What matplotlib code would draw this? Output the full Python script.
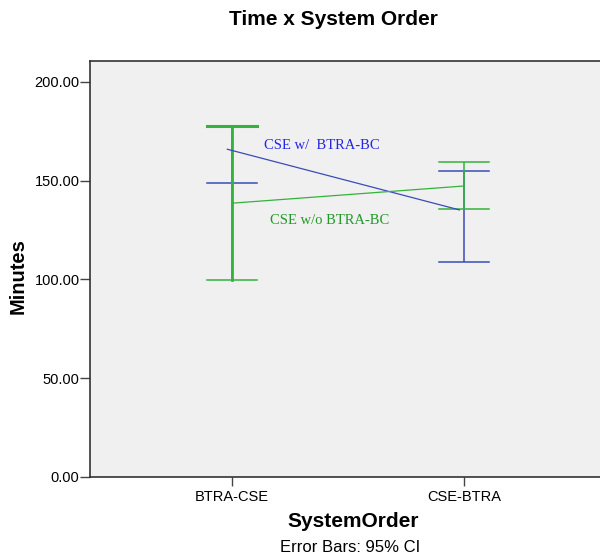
import matplotlib
matplotlib.use("Agg")
import matplotlib.pyplot as plt
import numpy as np

plt.rcParams['font.family'] = ['Liberation Sans', 'DejaVu Sans']

# data
orders = ['BTRA-CSE', 'CSE-BTRA']
with_mean = [165.9, 135.2]
with_lo = [149.0, 109.0]
with_hi = [177.7, 155.1]
without_mean = [138.6, 147.3]
without_lo = [99.7, 135.5]
without_hi = [177.7, 159.6]
yticks = [0, 50, 100, 150, 200]

blue = '#3a4cb8'
green = '#33b33c'

fig = plt.figure(figsize=(6.0, 5.54), dpi=100)
ax = fig.add_axes([0.15, 0.139, 0.85, 0.751])
ax.set_facecolor('#f0f0f0')

x = np.arange(len(orders))
cap = 0.108


def ci_bars(xs, lo, hi, color):
    for xi, l, h in zip(xs, lo, hi):
        ax.plot([xi, xi], [l, h], color=color, lw=1.1, solid_capstyle='butt')
        ax.plot([xi - cap, xi + cap], [l, l], color=color, lw=1.1)
        ax.plot([xi - cap, xi + cap], [h, h], color=color, lw=1.1)


ci_bars(x, with_lo, with_hi, blue)
ci_bars(x, without_lo, without_hi, green)
# BTRA-CSE green bar looks heavier in the original
ax.plot([x[0], x[0]], [without_lo[0], without_hi[0]], color=green, lw=2.0)
ax.plot([x[0] - cap, x[0] + cap], [without_hi[0]] * 2, color=green, lw=2.2)

ax.plot(x - 0.02, with_mean, color=blue, lw=0.9)
ax.plot(x, without_mean, color=green, lw=0.9)

ax.text(0.138, 167.6, 'CSE w/  BTRA-BC', color='#2525e6', fontsize=10.5,
        family='Liberation Serif', va='center')
ax.text(0.164, 129.6, 'CSE w/o BTRA-BC', color='#22992a', fontsize=10.5,
        family='Liberation Serif', va='center')

ax.set_xlim(-0.612, 1.586)
ax.set_ylim(0, 210.6)
ax.set_xticks(x)
ax.set_xticklabels(orders, fontsize=10.5)
ax.set_yticks(yticks)
ax.set_yticklabels([f'{v:.2f}' for v in yticks], fontsize=10.5)
ax.tick_params(axis='y', length=7, width=1, color='#444444', pad=0.5)
ax.tick_params(axis='x', length=6.5, width=1, color='#444444', pad=3)

for side in ['left', 'bottom', 'top']:
    ax.spines[side].set_color('#333333')
    ax.spines[side].set_linewidth(1.2)
ax.spines['right'].set_visible(False)

ax.set_ylabel('Minutes', fontsize=14.5, fontweight='bold')
ax.yaxis.set_label_coords(-0.122, 0.483)
fig.text(0.555, 0.965, 'Time x System Order', fontsize=15, fontweight='bold',
         ha='center', va='center')
fig.text(0.588, 0.058, 'SystemOrder', fontsize=15, fontweight='bold',
         ha='center', va='center')
fig.text(0.583, 0.011, 'Error Bars: 95% CI', fontsize=12, ha='center', va='center')

fig.savefig('out.png', dpi=100)
